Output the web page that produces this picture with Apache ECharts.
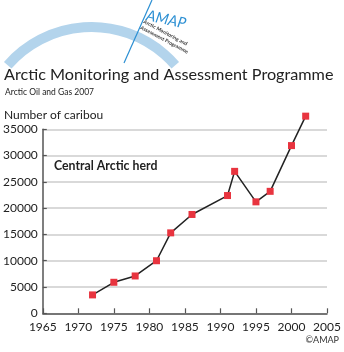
<!DOCTYPE html>
<html>
<head>
<meta charset="utf-8">
<script src="https://cdn.jsdelivr.net/npm/echarts@6/dist/echarts.min.js"></script>
<style>
  html, body { margin: 0; padding: 0; background: #fff; }
  #chart { width: 344px; height: 352px; }
</style>
</head>
<body>
<div id="chart"></div>
<script>
// Central Arctic caribou herd, population estimates by survey year
const years = [1972, 1975, 1978, 1981, 1983, 1986, 1991, 1992, 1995, 1997, 2000, 2002];
const caribou = [3500, 5900, 7100, 10000, 15300, 18800, 22400, 27000, 21200, 23200, 31900, 37500];

const titleText = 'Arctic Monitoring and Assessment Programme';
const subtitleText = 'Arctic Oil and Gas 2007';
const yAxisName = 'Number of caribou';
const herdLabel = 'Central Arctic herd';
const creditText = '\u00A9AMAP';

const FONT = 'Lato, "Noto Sans", sans-serif';
const chart = echarts.init(document.getElementById('chart'), null, { renderer: 'canvas' });

const deg = Math.PI / 180;

chart.setOption({
  animation: false,
  backgroundColor: '#ffffff',
  grid: { left: 41, right: 17, top: 129.3, bottom: 38.7, containLabel: false },
  xAxis: {
    type: 'value',
    min: 1965, max: 2005, interval: 5,
    axisLine: { show: true, lineStyle: { color: '#555', width: 1.5 } },
    axisTick: { show: true, inside: true, length: 5, lineStyle: { color: '#555', width: 1.2 } },
    axisLabel: { color: '#222', fontSize: 12, fontFamily: FONT, margin: 8, formatter: v => String(v) },
    splitLine: { show: false }
  },
  yAxis: {
    type: 'value',
    min: 0, max: 35000, interval: 5000,
    axisLine: { show: true, lineStyle: { color: '#555', width: 1.5 } },
    axisTick: { show: true, inside: true, length: 4, lineStyle: { color: '#555', width: 1.2 } },
    axisLabel: { color: '#222', fontSize: 12, fontFamily: FONT, margin: 5, formatter: v => String(v) },
    splitLine: { show: true, lineStyle: { color: '#cccccc', width: 1.5 } }
  },
  series: [{
    type: 'line',
    data: years.map((y, i) => [y, caribou[i]]),
    clip: false,
    symbol: 'rect',
    symbolSize: 7,
    itemStyle: { color: '#e8343f' },
    lineStyle: { color: '#222', width: 1.5 },
    z: 5
  }],
  graphic: [
    // logo: pale blue arc crossed by a thin diagonal stroke
    {
      type: 'arc',
      shape: { cx: 91.5, cy: 138, r: 111, startAngle: 221 * deg, endAngle: 319 * deg },
      style: { stroke: '#b3d4ec', lineWidth: 10, fill: null },
      silent: true
    },
    {
      type: 'line',
      shape: { x1: 152, y1: 0, x2: 124, y2: 63 },
      style: { stroke: '#2b8fd3', lineWidth: 1.2 },
      silent: true
    },
    {
      type: 'text',
      x: 148, y: 8,
      rotation: -12 * deg,
      style: { text: 'AMAP', fontSize: 15, fontStyle: 'italic', fontFamily: FONT, fill: '#2b8fd3', textVerticalAlign: 'top' },
      silent: true
    },
    {
      type: 'text',
      x: 145, y: 19,
      rotation: -28 * deg,
      style: { text: 'Arctic Monitoring and', fontSize: 5, fontWeight: 'bold', fontFamily: FONT, fill: '#333', textVerticalAlign: 'top' },
      silent: true
    },
    {
      type: 'text',
      x: 142, y: 25,
      rotation: -28 * deg,
      style: { text: 'Assessment Programme', fontSize: 5, fontWeight: 'bold', fontFamily: FONT, fill: '#333', textVerticalAlign: 'top' },
      silent: true
    },
    {
      type: 'text',
      left: 4, top: 67,
      style: { text: titleText, fontSize: 16.2, fontFamily: FONT, fill: '#222' },
      silent: true
    },
    {
      type: 'text',
      left: 5, top: 88,
      style: { text: subtitleText, fontSize: 8.5, fontFamily: FONT, fill: '#222' },
      silent: true
    },
    {
      type: 'text',
      left: 4, top: 109,
      style: { text: yAxisName, fontSize: 12, fontFamily: FONT, fill: '#222' },
      silent: true
    },
    {
      type: 'text',
      left: 54, top: 160,
      style: { text: herdLabel, fontSize: 12.3, fontWeight: 'bold', fontFamily: FONT, fill: '#222' },
      silent: true
    },
    {
      type: 'text',
      right: 5, top: 336,
      style: { text: creditText, fontSize: 9, fontFamily: FONT, fill: '#333' },
      silent: true
    }
  ]
});
</script>
</body>
</html>
